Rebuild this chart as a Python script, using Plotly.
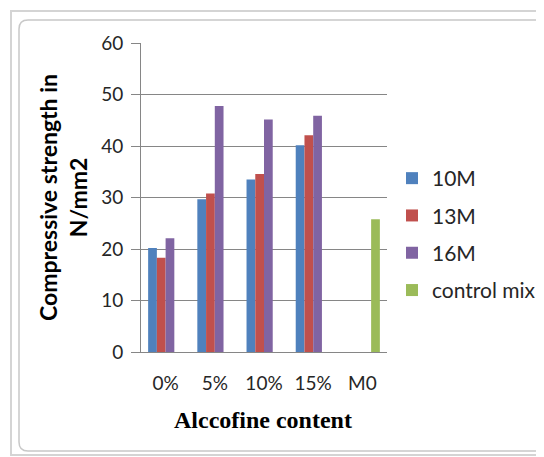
import plotly.graph_objects as go

categories = ["0%", "5%", "10%", "15%", "M0"]
s10M = [20.2, 29.7, 33.5, 40.2, None]
s13M = [18.3, 30.8, 34.6, 42.1, None]
s16M = [22.1, 47.8, 45.2, 45.9, None]
control_mix = [None, None, None, None, 25.8]
series_names = ["10M", "13M", "16M", "control mix"]
colors = ["#4F81BD", "#C0504D", "#8064A2", "#9BBB59"]

OFF = 8  # browser body margin
W, H = 544 - OFF, 457 - OFF
L, R, T, B = 141, 387, 43, 352  # plot area in reference pixel coords


def px(x):
    return (x - L) / (R - L)


def py(y):
    return (B - y) / (B - T)


fig = go.Figure()
for i, (name, vals) in enumerate(zip(series_names, [s10M, s13M, s16M, control_mix])):
    fig.add_trace(go.Bar(x=categories, y=vals, name=name, marker_color=colors[i],
                         marker_line_width=0, legendgroup=name))

tick_font = dict(family="Lato, sans-serif", size=19, color="#262626")

fig.update_layout(
    width=W, height=H,
    margin=dict(l=L - OFF, r=W - (R - OFF), t=T - OFF, b=H - (B - OFF), autoexpand=False),
    paper_bgcolor="white", plot_bgcolor="white",
    barmode="group", bargap=0.29, bargroupgap=0,
    showlegend=True,
    legend=dict(x=px(392), y=py(158), xanchor="left", yanchor="top",
                font=dict(family="Lato, sans-serif", size=21, color="#262626"),
                traceorder="grouped", tracegroupgap=7, itemwidth=30,
                bgcolor="rgba(0,0,0,0)"),
    xaxis=dict(showgrid=False, showline=True, linecolor="#868686", linewidth=1,
               ticks="", tickfont=tick_font, ticklabelstandoff=14),
    yaxis=dict(range=[0, 60.05], tickvals=[0, 10, 20, 30, 40, 50, 60],
               showgrid=True, gridcolor="#868686", gridwidth=1,
               showline=True, linecolor="#868686", linewidth=1,
               ticks="outside", ticklen=9, tickcolor="#868686",
               tickfont=tick_font, zeroline=False, ticklabelstandoff=4),
)

fig.add_annotation(text="<b>Compressive strength in<br>N/mm2</b>", textangle=-90,
                   xref="paper", yref="paper", x=px(63), y=py(198),
                   xanchor="center", yanchor="middle", showarrow=False,
                   font=dict(family="Lato, sans-serif", size=23, color="#000000"))
fig.add_annotation(text="<b>Alccofine content</b>",
                   xref="paper", yref="paper", x=px(263), y=py(420),
                   xanchor="center", yanchor="middle", showarrow=False,
                   font=dict(family="Liberation Serif, serif", size=24, color="#000000"))

# chart frame
fig.add_shape(type="rect", xref="paper", yref="paper",
              x0=px(11), y0=py(455), x1=px(570), y1=py(11),
              line=dict(color="#d4d4d4", width=2), layer="below")
x0, x1, y0, y1 = 19, 570, 20, 451
r = 9
path = (f"M {px(x0 + r)},{py(y0)} L {px(x1)},{py(y0)} "
        f"M {px(x0 + r)},{py(y0)} Q {px(x0)},{py(y0)} {px(x0)},{py(y0 + r)} "
        f"L {px(x0)},{py(y1 - r)} Q {px(x0)},{py(y1)} {px(x0 + r)},{py(y1)} "
        f"L {px(x1)},{py(y1)}")
fig.add_shape(type="path", xref="paper", yref="paper", path=path,
              line=dict(color="#c8c8c8", width=1.5), layer="below")

fig.write_html("out.html")
